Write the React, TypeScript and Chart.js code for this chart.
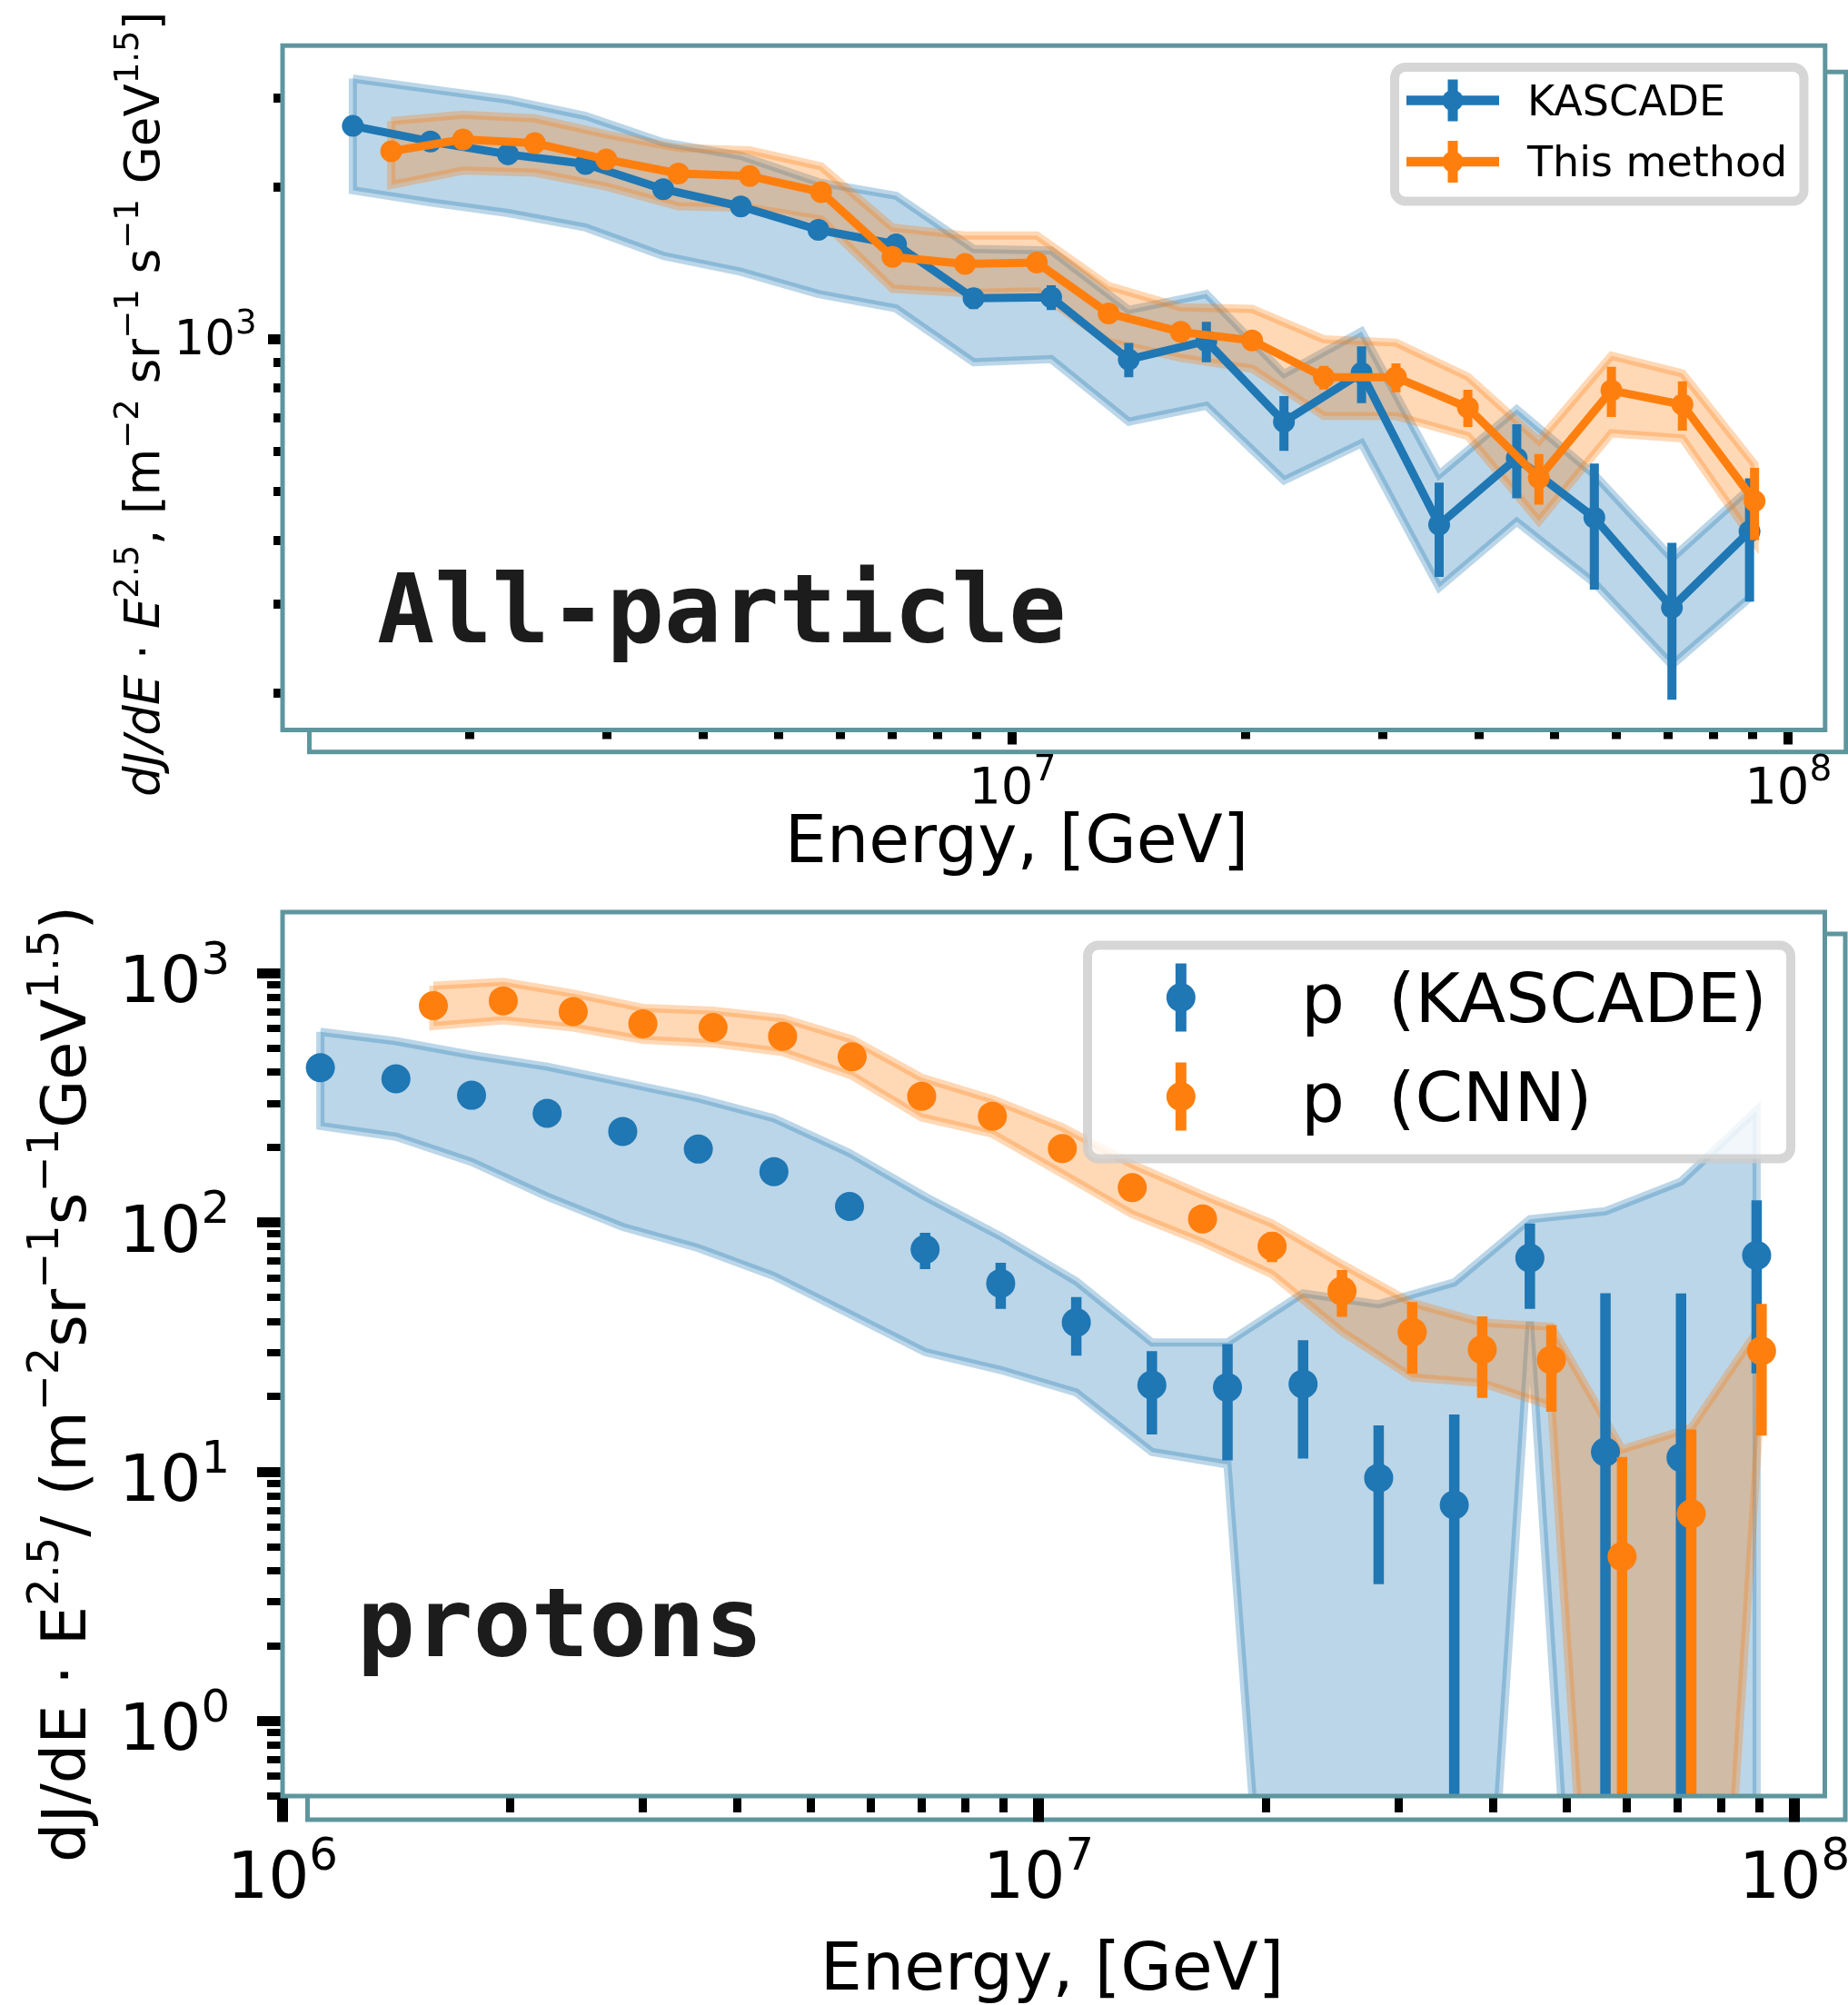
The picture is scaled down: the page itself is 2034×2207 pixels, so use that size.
import React, { useEffect, useRef } from 'react';
import { Chart, registerables } from 'chart.js';

Chart.register(...registerables);

const W = 2034;
const H = 2207;
const TOP_H = 975;
const BOT_H = H - TOP_H;

const BLUE = '#1f77b4';
const ORANGE = '#ff7f0e';
const BLUE_BAND = 'rgba(31,119,180,0.3)';
const ORANGE_BAND = 'rgba(255,127,14,0.3)';
const FRAME = '#5e969e';
const FONT = '"DejaVu Sans"';

// Energy bins, GeV
const kascadeEnergy = [
  1.122e6, 1.4125e6, 1.7783e6, 2.2387e6, 2.8184e6, 3.5481e6, 4.4668e6, 5.6234e6, 7.0795e6, 8.9125e6,
  1.122e7, 1.4125e7, 1.7783e7, 2.2387e7, 2.8184e7, 3.5481e7, 4.4668e7, 5.6234e7, 7.0795e7, 8.9125e7,
];
const cnnEnergy = [
  1.5831e6, 1.9588e6, 2.4238e6, 2.9966e6, 3.7111e6, 4.5865e6, 5.6686e6, 7.006e6, 8.6896e6, 1.0753e7,
  1.3305e7, 1.6482e7, 2.037e7, 2.5206e7, 3.1216e7, 3.8637e7, 4.7698e7, 5.9156e7, 7.3028e7, 9.0469e7,
];

// All-particle flux (dJ/dE * E^2.5); KASCADE starts from the second bin
const allKascadeEnergy = kascadeEnergy.slice(1);
const allKascade = [2640, 2460, 2320, 2220, 1980, 1830, 1645, 1540, 1205, 1210, 912, 992, 687, 858, 430, 582, 444, 295, 417];
const allKascadeErr = [45, 40, 40, 40, 40, 40, 40, 40, 58, 68, 71, 91, 85, 110, 91, 97, 124, 101, 114];
const allKascadeHi = [3275, 3121, 2974, 2764, 2449, 2305, 2043, 1922, 1509, 1498, 1143, 1229, 854, 1036, 540, 727, 540, 369, 507];
const allKascadeLo = [1970, 1864, 1776, 1663, 1462, 1360, 1229, 1151, 901, 914, 687, 739, 526, 623, 323, 436, 330, 227, 308];

const allCnn = [2353, 2483, 2441, 2267, 2126, 2101, 1954, 1455, 1409, 1418, 1125, 1034, 995, 841, 841, 733, 532, 792, 743, 479];
const allCnnErr = [30, 30, 30, 30, 30, 30, 30, 25, 25, 25, 20, 20, 20, 45, 55, 62, 61, 90, 83, 78];
const allCnnHi = [2699, 2778, 2732, 2541, 2390, 2362, 2197, 1663, 1603, 1603, 1274, 1157, 1148, 1000, 985, 843, 630, 928, 856, 566];
const allCnnLo = [2018, 2154, 2134, 2004, 1832, 1818, 1724, 1259, 1235, 1243, 988, 919, 875, 706, 705, 644, 437, 652, 637, 398];

// Proton flux
const pKascade = [418, 377, 324, 274, 232, 197, 160, 116, 78, 57, 39.7, 22.3, 21.8, 22.5, 9.44, 7.36, 72, 12.0, 11.4, 73.8];
const pKascadeErr = [15, 13, 11, 10, 9, 8, 7, 8, 13, 12, 10.5, 8.2, 10.7, 11.2, 5.9, 9.6, 27, 40, 40.5, 49];
const pKascadeHi = [582, 534, 470, 422, 365, 315, 262, 190, 127, 88, 58, 33, 33, 52, 47, 57.5, 103, 111, 146, 282];
const pKascadeLo = [244, 221, 175, 127, 96, 79, 61, 43, 30.2, 25.6, 20.8, 12.0, 10.7, 0.001, 0.001, 0.001, 40, 0.001, 0.001, 0.001];

const pCnn = [741, 775, 702, 627, 606, 558, 462, 321, 267, 198, 138, 103.4, 80.3, 53.1, 36.3, 30.9, 28.1, 4.57, 6.78, 30.55];
const pCnnErr = [20, 20, 18, 16, 16, 15, 12, 9, 8, 6, 6, 5, 11, 11.3, 11.6, 11.1, 10.7, 6.9, 8.0, 16.6];
const pCnnHi = [892, 923, 829, 726, 707, 660, 542, 381, 312, 241, 171, 129, 99, 68, 47.5, 39.7, 38.2, 12.3, 15.0, 38.8];
const pCnnLo = [614, 648, 606, 541, 523, 483, 388, 264, 227, 157, 108, 83.3, 62, 36.5, 23.9, 22.7, 18.4, 0.001, 0.001, 22];

// Axis ticks
const minorX = [2e6, 3e6, 4e6, 5e6, 6e6, 7e6, 8e6, 9e6, 2e7, 3e7, 4e7, 5e7, 6e7, 7e7, 8e7, 9e7];
const topXMajor = [1e7, 1e8];
const topYMajor = [1e3];
const topYMinor = [200, 300, 400, 500, 600, 700, 800, 900, 2000, 3000];
const botXMajor = [1e6, 1e7, 1e8];
const botYMajor = [1, 10, 100, 1000];
const botYMinor = [0.5, 0.6, 0.7, 0.8, 0.9, 2, 3, 4, 5, 6, 7, 8, 9, 20, 30, 40, 50, 60, 70, 80, 90, 200, 300, 400, 500, 600, 700, 800, 900];

// Tick label exponents
const topXLabels = [7, 8];
const topYLabels = [3];
const botXLabels = [6, 7, 8];
const botYLabels = [0, 1, 2, 3];

const FLOOR = 1e-3;

const pts = (xs: number[], ys: number[]) => xs.map((x, i) => ({ x, y: ys[i] }));
const errPts = (xs: number[], ys: number[], es: number[]) =>
  xs.flatMap((x, i) => [
    { x, y: Math.max(ys[i] - es[i], FLOOR) },
    { x, y: ys[i] + es[i] },
    { x, y: null as any },
  ]);
const outline = (xs: number[], hi: number[], lo: number[]) => [
  ...pts(xs, hi),
  ...pts(xs, lo).reverse(),
  { x: xs[0], y: hi[0] },
];

function bandSets(xs: number[], hi: number[], lo: number[], color: string, order: number) {
  return [
    { data: pts(xs, hi), fill: '+1', backgroundColor: color, borderColor: 'transparent', borderWidth: 0, pointRadius: 0, order: order + 2, clip: 0 },
    { data: pts(xs, lo), fill: false, borderColor: 'transparent', borderWidth: 0, pointRadius: 0, order: order + 1, clip: 0 },
    { data: outline(xs, hi, lo), fill: false, borderColor: color, borderWidth: 9, pointRadius: 0, order, clip: 0, borderJoinStyle: 'miter' },
  ];
}

function errSet(xs: number[], ys: number[], es: number[], color: string, width: number, order: number) {
  return { data: errPts(xs, ys, es), borderColor: color, borderWidth: width, pointRadius: 0, fill: false, spanGaps: false, borderCapStyle: 'butt', order, clip: 0 };
}

function seriesSet(xs: number[], ys: number[], color: string, radius: number, lineWidth: number, order: number) {
  return {
    data: pts(xs, ys),
    borderColor: color,
    borderWidth: lineWidth,
    showLine: lineWidth > 0,
    pointRadius: radius,
    pointBackgroundColor: color,
    pointBorderColor: color,
    pointBorderWidth: 0,
    borderJoinStyle: 'round',
    fill: false,
    order,
    clip: 0,
  };
}

function logAxis(position: string, min: number, max: number, ticks: number[], len: number, width: number) {
  return {
    type: 'logarithmic',
    position,
    min,
    max,
    bounds: 'data',
    display: true,
    afterBuildTicks: (s: any) => {
      s.ticks = ticks.map((v) => ({ value: v }));
    },
    afterFit: (s: any) => {
      if (position === 'bottom') s.height = 0;
      else s.width = 0;
    },
    ticks: { display: false, callback: () => '' },
    grid: { display: true, drawOnChartArea: false, drawTicks: true, tickLength: len, tickWidth: width, lineWidth: width, tickColor: '#000' },
    border: { display: false },
  };
}

type Seg = { t: string; it?: boolean; sup?: boolean };

function segFont(s: Seg, size: number) {
  const sz = s.sup ? size * 0.7 : size;
  return `${s.it ? 'italic ' : ''}${sz}px ${FONT}`;
}
function drawRich(ctx: CanvasRenderingContext2D, segs: Seg[], x: number, y: number, size: number) {
  let cx = x;
  for (const s of segs) {
    ctx.font = segFont(s, size);
    ctx.fillText(s.t, cx, s.sup ? y - size * 0.44 : y);
    cx += ctx.measureText(s.t).width;
  }
  return cx - x;
}
function drawPow(ctx: CanvasRenderingContext2D, exp: number, x: number, baseline: number, size: number, align: string) {
  const segs: Seg[] = [{ t: '10' }, { t: String(exp), sup: true }];
  let w = 0;
  for (const s of segs) {
    ctx.font = segFont(s, size);
    w += ctx.measureText(s.t).width;
  }
  const start = align === 'center' ? x - w / 2 : x - w;
  drawRich(ctx, segs, start, baseline, size);
}
function roundRectPath(ctx: CanvasRenderingContext2D, x: number, y: number, w: number, h: number, r: number) {
  ctx.beginPath();
  ctx.moveTo(x + r, y);
  ctx.lineTo(x + w - r, y);
  ctx.arcTo(x + w, y, x + w, y + r, r);
  ctx.lineTo(x + w, y + h - r);
  ctx.arcTo(x + w, y + h, x + w - r, y + h, r);
  ctx.lineTo(x + r, y + h);
  ctx.arcTo(x, y + h, x, y + h - r, r);
  ctx.lineTo(x, y + r);
  ctx.arcTo(x, y, x + r, y, r);
  ctx.closePath();
}

function decorPlugin(cfg: any) {
  const off = cfg.off;
  return {
    id: 'decor',
    beforeDraw(chart: any) {
      const ctx = chart.ctx as CanvasRenderingContext2D;
      const a = chart.chartArea;
      const f = cfg.outer;
      ctx.save();
      ctx.strokeStyle = FRAME;
      ctx.lineWidth = 5;
      ctx.strokeRect(f.l, f.t - off, f.r - f.l, f.b - f.t);
      ctx.fillStyle = '#fff';
      ctx.fillRect(a.left, a.top, a.right - a.left, a.bottom - a.top);
      ctx.restore();
    },
    afterDraw(chart: any) {
      const ctx = chart.ctx as CanvasRenderingContext2D;
      const a = chart.chartArea;
      const sx = chart.scales.x;
      const sy = chart.scales.y;
      ctx.save();
      // axes box
      ctx.strokeStyle = FRAME;
      ctx.lineWidth = 5;
      ctx.strokeRect(a.left, a.top, a.right - a.left, a.bottom - a.top);

      ctx.fillStyle = '#000';
      ctx.textAlign = 'left';
      ctx.textBaseline = 'alphabetic';
      // tick labels
      for (const e of cfg.xLabels.exps) {
        drawPow(ctx, e, sx.getPixelForValue(Math.pow(10, e)), cfg.xLabels.baseline - off, cfg.xLabels.size, 'center');
      }
      for (const e of cfg.yLabels.exps) {
        drawPow(ctx, e, cfg.yLabels.right, sy.getPixelForValue(Math.pow(10, e)) + cfg.yLabels.dy, cfg.yLabels.size, 'right');
      }
      // x title
      ctx.font = `${cfg.xTitle.size}px ${FONT}`;
      ctx.textAlign = 'center';
      ctx.fillText(cfg.xTitle.text, cfg.xTitle.cx, cfg.xTitle.baseline - off);
      ctx.textAlign = 'left';
      // y title
      ctx.save();
      ctx.translate(cfg.yTitle.x, cfg.yTitle.y - off);
      ctx.rotate(-Math.PI / 2);
      drawRich(ctx, cfg.yTitle.segs, 0, 0, cfg.yTitle.size);
      ctx.restore();
      // panel label
      ctx.fillStyle = '#1c1c1c';
      ctx.font = `bold ${cfg.label.size}px "DejaVu Sans Mono"`;
      ctx.fillText(cfg.label.text, cfg.label.x, cfg.label.y - off);
      // legend
      const L = cfg.legend;
      roundRectPath(ctx, L.x, L.y - off, L.w, L.h, 12);
      ctx.fillStyle = 'rgba(255,255,255,0.8)';
      ctx.fill();
      ctx.strokeStyle = 'rgba(204,204,204,0.8)';
      ctx.lineWidth = 10;
      ctx.stroke();
      for (const it of L.items) {
        const cy = it.y - off;
        ctx.strokeStyle = it.color;
        ctx.fillStyle = it.color;
        ctx.lineCap = 'butt';
        if (L.line) {
          ctx.lineWidth = L.line.w;
          ctx.beginPath();
          ctx.moveTo(L.line.x1, cy);
          ctx.lineTo(L.line.x2, cy);
          ctx.stroke();
        }
        ctx.lineWidth = L.bar.w;
        ctx.beginPath();
        ctx.moveTo(L.mx, cy - L.bar.h);
        ctx.lineTo(L.mx, cy + L.bar.h);
        ctx.stroke();
        ctx.beginPath();
        ctx.arc(L.mx, cy, L.r, 0, Math.PI * 2);
        ctx.fill();
        ctx.fillStyle = '#000';
        ctx.font = `${L.size}px ${FONT}`;
        ctx.fillText(it.label, L.tx, it.base - off);
      }
      ctx.restore();
    },
  };
}

function makeConfig(datasets: any[], scales: any, padding: any, cfg: any) {
  return {
    type: 'line',
    data: { datasets },
    options: {
      responsive: false,
      maintainAspectRatio: false,
      animation: false,
      events: [],
      layout: { padding, autoPadding: false },
      plugins: { legend: { display: false }, tooltip: { enabled: false } },
      scales,
    },
    plugins: [decorPlugin(cfg)],
  } as any;
}

function topConfig() {
  const datasets = [
    ...bandSets(allKascadeEnergy, allKascadeHi, allKascadeLo, BLUE_BAND, 20),
    ...bandSets(cnnEnergy, allCnnHi, allCnnLo, ORANGE_BAND, 15),
    errSet(allKascadeEnergy, allKascade, allKascadeErr, BLUE, 10, 6),
    seriesSet(allKascadeEnergy, allKascade, BLUE, 12, 9, 5),
    errSet(cnnEnergy, allCnn, allCnnErr, ORANGE, 10, 4),
    seriesSet(cnnEnergy, allCnn, ORANGE, 12, 9, 3),
  ];
  const xMin = 1.1467e6, xMax = 1.1153e8, yMin = 169, yMax = 3805;
  const scales = {
    x: logAxis('bottom', xMin, xMax, topXMajor, 16, 10),
    xMinor: logAxis('bottom', xMin, xMax, minorX, 10, 10),
    y: logAxis('left', yMin, yMax, topYMajor, 16, 11),
    yMinor: logAxis('left', yMin, yMax, topYMinor, 10, 10),
  };
  const padding = { left: 311, top: 50.2, right: W - 2008.8, bottom: TOP_H - 803.5 };
  const cfg = {
    off: 0,
    outer: { l: 340.5, t: 79.2, r: 2031.8, b: 827.7 },
    xLabels: { exps: topXLabels, baseline: 884, size: 56 },
    yLabels: { exps: topYLabels, right: 282.5, dy: 16.5, size: 53 },
    xTitle: { text: 'Energy, [GeV]', cx: 1119, baseline: 949, size: 73 },
    yTitle: {
      x: 175,
      y: 877,
      size: 53,
      segs: [
        { t: 'dJ/dE', it: true }, { t: ' · ' }, { t: 'E', it: true }, { t: '2.5', sup: true },
        { t: ', [m' }, { t: '−2', sup: true }, { t: ' sr' }, { t: '−1', sup: true },
        { t: ' s' }, { t: '−1', sup: true }, { t: ' GeV' }, { t: '1.5', sup: true }, { t: ']' },
      ],
    },
    label: { text: 'All-particle', x: 415, y: 707, size: 105 },
    legend: {
      x: 1535, y: 74, w: 450.5, h: 147.6, size: 46, tx: 1681, mx: 1599, r: 11.5,
      line: { x1: 1548, x2: 1650, w: 10.5 },
      bar: { w: 11, h: 23 },
      items: [
        { label: 'KASCADE', color: BLUE, y: 110.5, base: 127 },
        { label: 'This method', color: ORANGE, y: 178, base: 194 },
      ],
    },
  };
  return makeConfig(datasets, scales, padding, cfg);
}

function bottomConfig() {
  const datasets = [
    ...bandSets(kascadeEnergy, pKascadeHi, pKascadeLo, BLUE_BAND, 20),
    ...bandSets(cnnEnergy, pCnnHi, pCnnLo, ORANGE_BAND, 15),
    errSet(kascadeEnergy, pKascade, pKascadeErr, BLUE, 11.5, 6),
    seriesSet(kascadeEnergy, pKascade, BLUE, 16, 0, 5),
    errSet(cnnEnergy, pCnn, pCnnErr, ORANGE, 11.5, 4),
    seriesSet(cnnEnergy, pCnn, ORANGE, 16, 0, 3),
  ];
  const xMin = 1e6, xMax = 1.097e8, yMin = 0.5, yMax = 1759;
  const scales = {
    x: logAxis('bottom', xMin, xMax, botXMajor, 28.5, 12),
    xMinor: logAxis('bottom', xMin, xMax, minorX, 18, 9),
    y: logAxis('left', yMin, yMax, botYMajor, 28, 11),
    yMinor: logAxis('left', yMin, yMax, botYMinor, 17, 8),
  };
  const padding = { left: 311, top: 1004 - TOP_H, right: W - 2008.5, bottom: H - 1977 };
  const cfg = {
    off: TOP_H,
    outer: { l: 338.5, t: 1028, r: 2031, b: 2003 },
    xLabels: { exps: botXLabels, baseline: 2089, size: 71 },
    yLabels: { exps: botYLabels, right: 253, dy: 32, size: 71 },
    xTitle: { text: 'Energy, [GeV]', cx: 1158, baseline: 2190, size: 73 },
    yTitle: {
      x: 94,
      y: 2050,
      size: 68.5,
      segs: [
        { t: 'dJ/dE · E' }, { t: '2.5', sup: true }, { t: '/ (m' }, { t: '−2', sup: true },
        { t: 'sr' }, { t: '−1', sup: true }, { t: 's' }, { t: '−1', sup: true },
        { t: 'GeV' }, { t: '1.5', sup: true }, { t: ')' },
      ],
    },
    label: { text: 'protons', x: 393, y: 1823, size: 106 },
    legend: {
      x: 1197, y: 1040.4, w: 774, h: 235, size: 75.5, tx: 1432, mx: 1299.8, r: 16,
      line: null,
      bar: { w: 12, h: 37.5 },
      items: [
        { label: 'p  (KASCADE)', color: BLUE, y: 1098, base: 1125.3 },
        { label: 'p  (CNN)', color: ORANGE, y: 1207, base: 1234.2 },
      ],
    },
  };
  return makeConfig(datasets, scales, padding, cfg);
}

export default function App() {
  const topRef = useRef<HTMLCanvasElement>(null);
  const botRef = useRef<HTMLCanvasElement>(null);

  useEffect(() => {
    const top = new Chart(topRef.current as HTMLCanvasElement, topConfig());
    const bottom = new Chart(botRef.current as HTMLCanvasElement, bottomConfig());
    return () => {
      top.destroy();
      bottom.destroy();
    };
  }, []);

  return (
    <div style={{ position: 'absolute', left: 0, top: 0, width: W, height: H, background: '#fff', overflow: 'hidden' }}>
      <canvas ref={topRef} width={W} height={TOP_H} style={{ position: 'absolute', left: 0, top: 0, width: W, height: TOP_H }} />
      <canvas ref={botRef} width={W} height={BOT_H} style={{ position: 'absolute', left: 0, top: TOP_H, width: W, height: BOT_H }} />
    </div>
  );
}
